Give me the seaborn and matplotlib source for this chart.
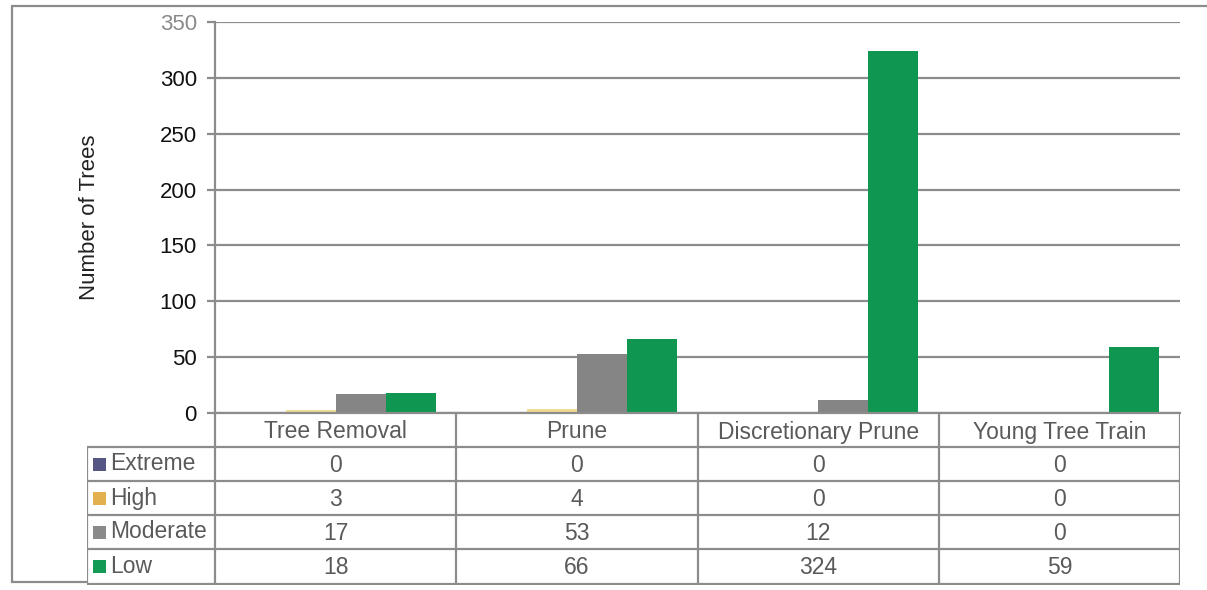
import matplotlib
matplotlib.use("Agg")
import matplotlib.pyplot as plt
import seaborn as sns
import pandas as pd
from matplotlib.patches import Rectangle
from matplotlib.lines import Line2D

# ---------------- data ----------------
categories = ["Tree Removal", "Prune", "Discretionary Prune", "Young Tree Train"]
series_names = ["Extreme", "High", "Moderate", "Low"]
extreme = [0, 0, 0, 0]
high = [3, 4, 0, 0]
moderate = [17, 53, 12, 0]
low = [18, 66, 324, 59]
y_ticks = [0, 50, 100, 150, 200, 250, 300, 350]
y_label = "Number of Trees"

# ---------------- style ----------------
bar_colors = {"Extreme": "#565685", "High": "#efdc92", "Moderate": "#858585", "Low": "#0f9650"}
key_colors = {"Extreme": "#565685", "High": "#e2b04e", "Moderate": "#8a8a8a", "Low": "#159a55"}
line_c = "#8c8c8c"
text_c = "#5a5a5a"
FS = 16.5

sns.set_theme(style="white")
plt.rcParams['font.family'] = ['Liberation Sans', 'DejaVu Sans']

series_values = {"Extreme": extreme, "High": high, "Moderate": moderate, "Low": low}
rows = []
for s in series_names:
    for c, v in zip(categories, series_values[s]):
        rows.append({"category": c, "series": s, "value": v})
df = pd.DataFrame(rows)

W, H = 1207, 590
fig = plt.figure(figsize=(W / 100, H / 100), dpi=100)

# main chart axes (pixel geometry: x 215..1180, y 22..413)
ax = fig.add_axes([215 / W, 1 - 413 / H, 965 / W, (413 - 22) / H])
sns.barplot(data=df, x="category", y="value", hue="series", order=categories,
            hue_order=series_names, palette=bar_colors, width=0.83, gap=0,
            saturation=1, errorbar=None, legend=False, linewidth=0, ax=ax)
ax.set_xlim(-0.5, 3.5)
ax.set_ylim(0, 350)
ax.set_yticks(y_ticks)
ax.set_xticks([])
ax.set_xlabel("")
ax.set_ylabel(y_label, fontsize=16, color="#222222")
ax.yaxis.set_label_coords((100 - 215) / 965, 0.5)
ax.yaxis.grid(True, color=line_c, lw=1.6)
ax.set_axisbelow(True)
for side in ["top", "right"]:
    ax.spines[side].set_visible(False)
for side in ["left", "bottom"]:
    ax.spines[side].set_color(line_c)
    ax.spines[side].set_linewidth(1.6)
ax.tick_params(axis="y", left=True, length=6, width=1.6, color=line_c,
               labelsize=16, labelcolor="#111111", pad=7)
ax.get_yticklabels()[-1].set_color("#8a8a8a")

# data table axes (pixel geometry x 87..1180, y 413..585)
px_per_unit = 965 / 4.0
def px2d(px):
    return -0.5 + (px - 215) / px_per_unit

tx = fig.add_axes([87 / W, 1 - 585 / H, (1180 - 87) / W, (585 - 413) / H])
tx.set_xlim(px2d(87), 3.5)
tx.set_ylim(585, 413)
tx.axis("off")

row_lines = [413, 447, 481, 515, 549, 584]
lk = dict(color=line_c, lw=1.6, solid_capstyle="butt")
for y in row_lines[1:]:
    tx.plot([px2d(87), 3.5], [y, y], **lk)
# vertical lines
for i in range(5):
    xv = -0.5 + i
    tx.plot([xv, xv], [413, 584], **lk)
tx.plot([px2d(87), px2d(87)], [447, 584], **lk)

# header text
for i, c in enumerate(categories):
    tx.text(i, 432, c, ha="center", va="center", fontsize=FS, color=text_c)

# rows
for r, s in enumerate(series_names):
    yc = (row_lines[r + 1] + row_lines[r + 2]) / 2
    k0 = px2d(93)
    kw = px2d(106) - k0
    tx.add_patch(Rectangle((k0, yc - 6.5), kw, 13, color=key_colors[s], lw=0))
    tx.text(px2d(110), yc, s, ha="left", va="center", fontsize=FS, color=text_c)
    for i, v in enumerate(series_values[s]):
        tx.text(i, yc + 1, str(v), ha="center", va="center", fontsize=FS, color=text_c)

# outer frame of the scanned chart area
def fl(x0, y0, x1, y1):
    fig.add_artist(Line2D([x0 / W, x1 / W], [1 - y0 / H, 1 - y1 / H],
                          transform=fig.transFigure, color=line_c, lw=1.6))
fl(12, 6, 1207, 6)
fl(12, 6, 12, 582)
fl(12, 582, 87, 582)

fig.savefig("out.png", dpi=100)
